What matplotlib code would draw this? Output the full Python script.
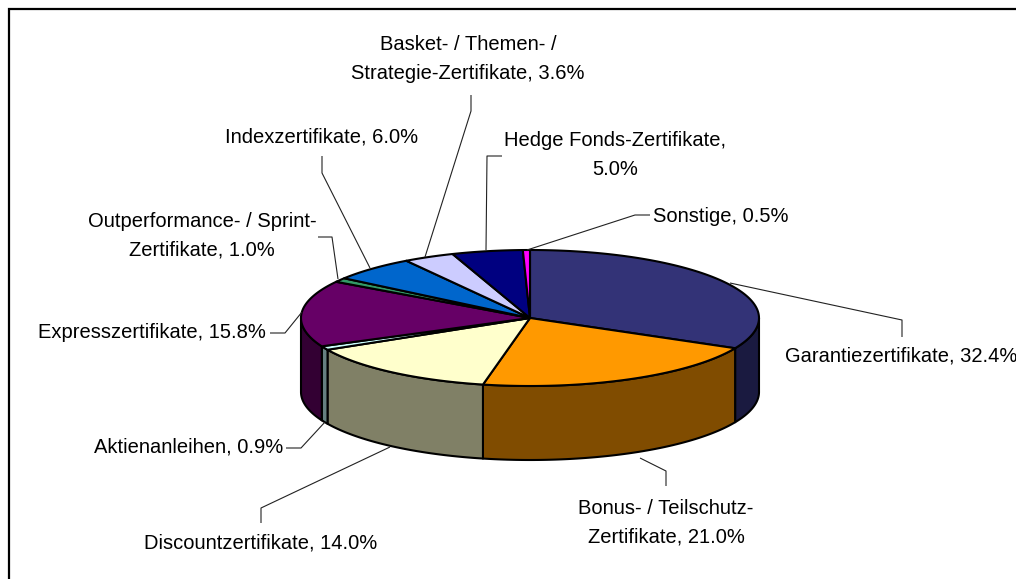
import numpy as np
import matplotlib
matplotlib.use("Agg")
import matplotlib.pyplot as plt
from matplotlib.patches import Polygon

plt.rcParams['font.family'] = ['Liberation Sans', 'DejaVu Sans']

categories = ["Garantiezertifikate", "Bonus- / Teilschutz-\nZertifikate", "Discountzertifikate",
              "Aktienanleihen", "Expresszertifikate", "Outperformance- / Sprint-\nZertifikate",
              "Indexzertifikate", "Basket- / Themen- /\nStrategie-Zertifikate",
              "Hedge Fonds-Zertifikate,\n", "Sonstige"]
values = [32.4, 21.0, 14.0, 0.9, 15.8, 1.0, 6.0, 3.6, 5.0, 0.5]
top_colors = ["#333377", "#FF9900", "#FFFFCC", "#CCFFFF", "#660066", "#339966", "#0066CC", "#CCCCFF", "#000080", "#FF00FF"]
side_colors = ["#1A1A40", "#804C00", "#808066", "#668080", "#330033", "#1A4D33", "#003366", "#666680", "#000040", "#800080"]

# layout (pixels)
cx, cy, rx, ry, depth = 530, 318, 229, 68, 74
label_pos = [(785, 356, 'left'), (666, 523, 'center'), (261, 543, 'center'), (189, 447, 'center'),
             (152, 333, 'center'), (202, 236, 'center'), (322, 137, 'center'), (468, 59, 'center'),
             (615, 155, 'center'), (721, 216, 'center')]
leaders = [[(730, 283), (902, 320), (902, 337)],
           [(640, 458), (666, 471), (666, 486)],
           [(390, 447), (261, 508), (261, 523)],
           [(325, 422), (301, 448), (286, 448)],
           [(302, 312), (285, 333), (270, 333)],
           [(338, 279), (332, 237), (318, 237)],
           [(370, 268), (322, 173), (322, 156)],
           [(425, 257), (471, 111), (471, 95)],
           [(486, 250), (487, 156), (502, 156)],
           [(527, 250), (635, 215), (650, 215)]]

fig = plt.figure(figsize=(10.16, 5.79), dpi=100)
ax = fig.add_axes([0, 0, 1, 1])
ax.set_xlim(0, 1016)
ax.set_ylim(579, 0)
ax.axis('off')
# frame of the chart area: only top and left edges lie inside the picture
ax.plot([9, 9, 1016], [579, 9, 9], color='black', lw=1.6, zorder=1, solid_joinstyle='miter')

def pt(t, d=0):
    return cx + rx * np.sin(t), cy - ry * np.cos(t) + d

edges = np.radians(np.concatenate([[0], np.cumsum(values)]) / sum(values) * 360)

for i in range(len(values)):
    a, b = max(edges[i], np.pi / 2), min(edges[i + 1], 3 * np.pi / 2)
    if b <= a:
        continue
    ts = np.linspace(a, b, 100)
    upper = np.column_stack(pt(ts))
    lower = np.column_stack(pt(ts[::-1], depth))
    ax.add_patch(Polygon(np.vstack([upper, lower]), closed=True, fc=side_colors[i], ec='black', lw=1.5, joinstyle='round', zorder=2))

for i in range(len(values)):
    ts = np.linspace(edges[i], edges[i + 1], 150)
    arc = np.column_stack(pt(ts))
    ax.add_patch(Polygon(np.vstack([[cx, cy], arc]), closed=True, fc=top_colors[i], ec='black', lw=1.5, joinstyle='round', zorder=3))

for i, name in enumerate(categories):
    pts = np.array(leaders[i])
    ax.plot(pts[:, 0], pts[:, 1], color='#222222', lw=0.8, zorder=4, solid_capstyle='butt')
    x, y, ha = label_pos[i]
    if name.endswith(",\n"):
        txt = f"{name}{values[i]:.1f}%"
    else:
        txt = f"{name}, {values[i]:.1f}%"
    ax.text(x, y, txt, ha=ha, va='center', fontsize=14.5, color='black', linespacing=1.65, zorder=5)

fig.savefig("out.png", dpi=100)
